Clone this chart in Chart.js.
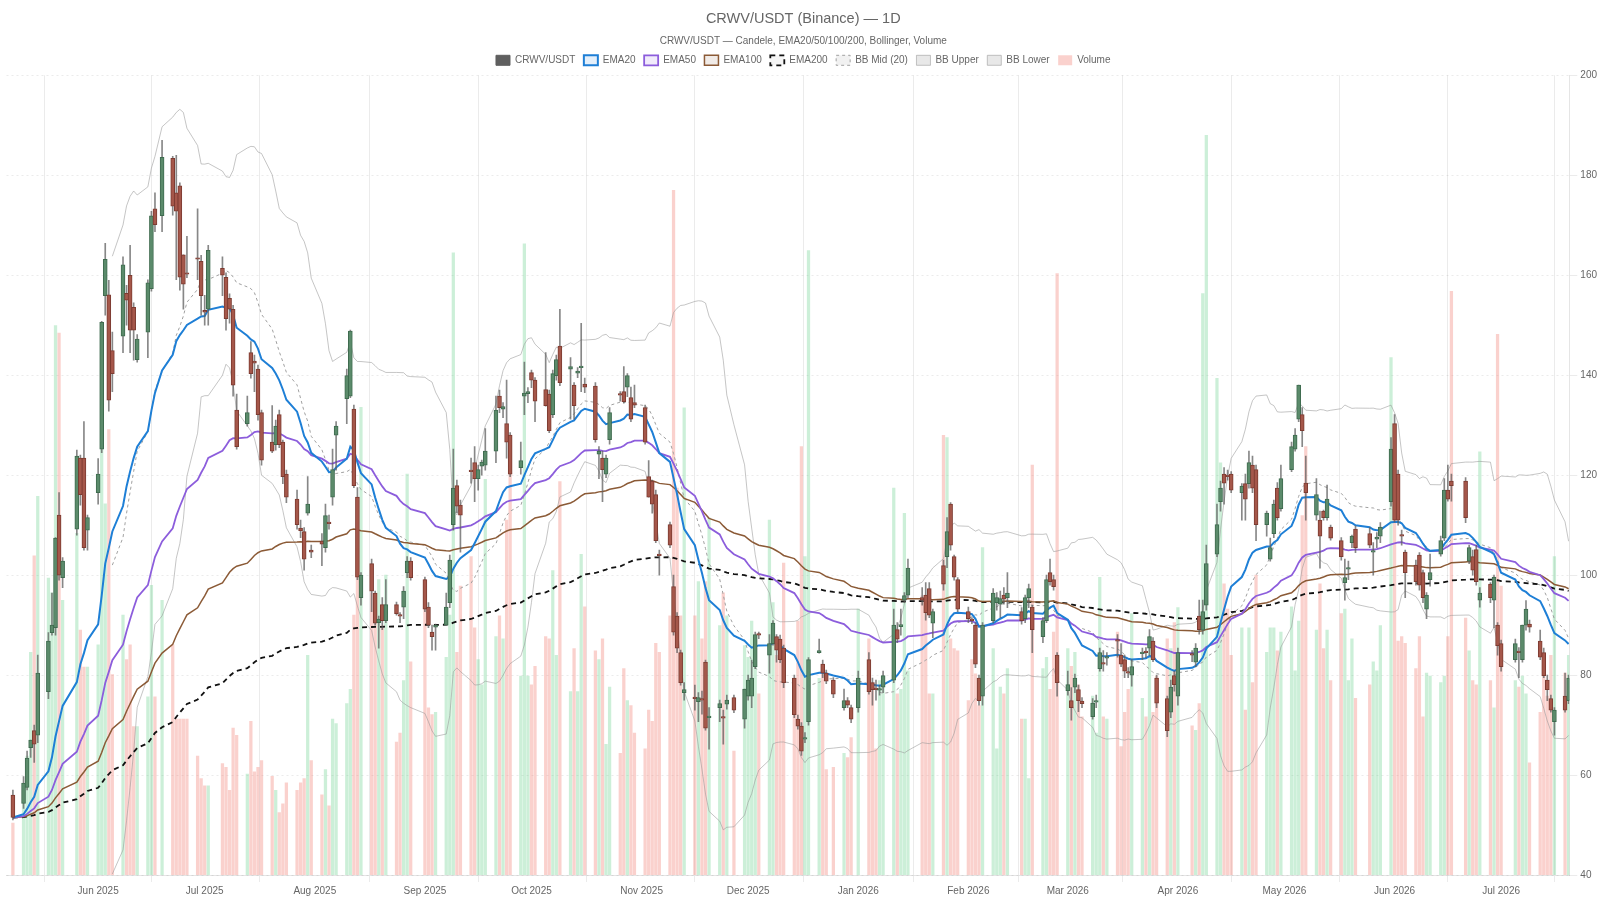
<!DOCTYPE html>
<html>
<head>
<meta charset="utf-8">
<title>CRWV/USDT (Binance) — 1D</title>
<script src="https://cdn.jsdelivr.net/npm/chart.js@4.4.1/dist/chart.umd.min.js"></script>
<style>
    html, body { margin: 0; padding: 0; background: #ffffff; }
    #wrap { width: 1600px; height: 900px; }
</style>
</head>
<body>
<div id="wrap"><canvas id="graphCanvas"></canvas></div>
<script>
// trading calendar (weekdays, US market holidays skipped)
var firstDay = '2025-05-09';
var lastDay = '2026-07-21';
var holidays = ['2025-05-26', '2025-06-19', '2025-07-04', '2025-09-01', '2025-11-27', '2025-12-25',
    '2026-01-01', '2026-01-19', '2026-02-16', '2026-04-03', '2026-05-25', '2026-06-19', '2026-07-03'];

// x axis ticks
var monthStarts = ['2025-06-01', '2025-07-01', '2025-08-01', '2025-09-01', '2025-10-01', '2025-11-01', '2025-12-01',
    '2026-01-01', '2026-02-01', '2026-03-01', '2026-04-01', '2026-05-01', '2026-06-01', '2026-07-01'];
var monthLabels = ['Jun 2025', 'Jul 2025', 'Aug 2025', 'Sep 2025', 'Oct 2025', 'Nov 2025', 'Dec 2025',
    'Jan 2026', 'Feb 2026', 'Mar 2026', 'Apr 2026', 'May 2026', 'Jun 2026', 'Jul 2026'];

// one line per month
var opens = [
    56, 54.3, 57.5, 65.5, 68.9, 68, 76.7, 88.5, 89.5, 112, 99.5, 109.2, 123.4, 123.4, 109,
    116.5, 125.2, 155.9, 156.1, 144.9, 147.8, 156.4, 160, 153.6, 143.1, 148.6, 157.3, 173.3, 171.9, 183.4, 176.5, 177.9, 164.1, 160.5, 163.5,
    162.8, 153, 153.2, 161.4, 159.6, 155.4, 153.2, 133, 130.3, 144.5, 142.8, 141.2, 132.5, 126.6, 126.1, 132.1, 126.6, 120.2, 115.2, 109.4, 108.7, 112.4,
    105, 106.8, 105.5, 110.6, 115.6, 128, 135.3, 135.8, 133.2, 115.6, 95.5, 102.3, 96.4, 90.5, 94.1, 90.9, 94.1, 92, 93.6, 100.5, 102.8,
    99.1, 93.6, 88.6, 89.6, 90, 94.5, 110.1, 117.9, 114, 121, 122.5, 119.3, 121.8, 122, 124.8, 135.8, 133.2, 130.3, 128, 121.5, 135.8,
    136.3, 140.5, 139, 137.1, 136.2, 132.1, 139.9, 145.8, 141.2, 138, 140.4, 141.5, 138.2, 137.8, 124.2, 123.4, 120.2, 127.1, 136.3, 136.7, 137.6, 135.5, 134.5,
    133.5, 119.7, 118.8, 116.1, 104.2, 110.1, 97.7, 91.8, 84.5, 76.5, 75.5, 74.7, 75.2, 82.6, 71.5, 73.5, 71.6, 74.2, 75.5,
    71.2, 75.8, 75.8, 81.7, 88.2, 84, 86.3, 87.7, 87.2, 85.4, 79.4, 71.2, 69.8, 67.2, 70.7, 84.5, 82.2, 80.4, 79, 73.5, 74.9, 73.5,
    73.5, 83.1, 78.5, 77.3, 77, 77.6, 79, 89.1, 89.7, 95, 96, 95.5, 96, 97.3, 90.4, 101.9, 103.7, 114.2, 103.7, 99.1,
    92.7, 91, 90, 79.4, 75.8, 90.9, 94.5, 94.2, 96, 95.5, 92.7, 91.3, 95.5, 93.6, 87.7, 90.9, 100.5, 99.1, 84,
    76.9, 74.9, 77.6, 77.1, 74.8, 71.7, 74.6, 81.3, 82.5, 83.4, 87, 84, 83.1, 80.6, 80, 84.3, 84.6, 85.4, 86.8, 79.4, 75.3, 72.6,
    79.9, 75.8, 84.1, 82.6, 91.8, 89, 94, 104.2, 114.7, 120.2, 120, 120.2, 116.5, 118.3, 118.3, 122, 121.1, 110.1, 103.2, 108.3, 117.4,
    113.3, 121.1, 125.2, 131.2, 132.1, 118.4, 112, 111, 112.8, 111.5, 109.6, 106.9, 98.5, 101.2, 106.5, 109.2, 108.3, 104.6, 107.2, 107.8,
    114.7, 130.3, 120.2, 108, 104.6, 102, 104, 100.5, 93.2, 99.1, 104.2, 107.4, 117, 118.8, 118.8, 102.8, 103.7, 105.1, 95, 98.2, 95,
    90, 86.3, 83.1, 84.7, 83.1, 90, 90.2, 86.8, 84.5, 79, 75.3, 70.7, 75.8, 74.9
];
var highs = [
    57, 59.7, 64.8, 67, 70, 84, 88.5, 96.4, 107.5, 116.5, 103.5, 125, 124, 130.7, 112,
    123.3, 150.8, 166.4, 159, 148.6, 163.7, 158, 166, 154.5, 148.1, 159.1, 172.8, 176.5, 187, 183.8, 184, 178.5, 164.1, 167.8, 173.3,
    164, 156, 166, 163.7, 160.5, 156.3, 154, 136.2, 135.8, 146.7, 144, 142, 133, 133.9, 131, 133, 127, 121, 117, 111, 109.5, 119.7,
    106, 108.3, 114.2, 112, 125.2, 130.7, 141.2, 149, 134, 117.5, 100.5, 103.2, 96.8, 91.8, 95.5, 99.1, 94.6, 92.5, 97.7, 103.7, 103.5,
    99.6, 94.5, 90, 90.2, 96.4, 104, 125.2, 119, 115, 123.4, 125.7, 122, 123, 129.3, 135.8, 137, 134.5, 139, 128.5, 126.6, 142.6,
    137.5, 141, 139.5, 144.5, 137, 141, 144, 153.2, 143.5, 138.5, 141.5, 150.4, 139.4, 138.5, 125.7, 124.8, 124, 133.5, 136.7, 141.7, 140.3, 137.6, 138,
    134, 122.9, 119, 117, 105, 110.6, 100, 92.5, 85, 78.5, 78, 76.5, 76.8, 83, 73.5, 75, 73, 76, 76,
    77.2, 80, 83, 88.6, 88.6, 88.1, 90.9, 88.1, 88, 86, 80, 72, 70.5, 68.5, 83.5, 87.2, 83, 81, 79.5, 77.2, 75.5, 74,
    80.8, 84.5, 79.4, 79, 78, 80.8, 93.2, 90.5, 93.2, 96.5, 103.2, 97.5, 98.5, 98.5, 93.2, 103, 111.5, 114.5, 104, 99.5,
    93.6, 91.5, 90.5, 80, 90.5, 97.3, 96.5, 96.8, 97.5, 100.5, 93.5, 96, 98.2, 94, 91.5, 100, 103.2, 100, 84.5,
    80.8, 77.5, 80.2, 78, 75.5, 75.3, 76, 85.4, 84.9, 84.5, 88.1, 86.3, 84, 81.5, 83.1, 85.4, 85.5, 89.1, 87.5, 80, 75.8, 79,
    80.8, 85.4, 84.9, 86.3, 95, 95, 106, 114.2, 118.8, 121.5, 121, 120.7, 118.3, 120.2, 124.8, 123.8, 122, 112.8, 107.4, 115, 118.5,
    122, 126.6, 129.3, 138, 133.5, 123.8, 119.3, 112.8, 113, 118, 110, 107.5, 103.2, 102.8, 108, 109.8, 109.5, 106.5, 108.5, 110.5,
    127.5, 132.1, 121, 109, 105, 103, 104.5, 101, 96.5, 104.2, 107.8, 119.3, 122, 120.2, 119.5, 106, 105, 106, 97.5, 98.5, 100,
    90.5, 87, 87.2, 85.5, 90, 94.9, 91, 89, 85.4, 80, 76, 73.5, 80.4, 80
];
var lows = [
    51, 53.3, 57, 63.5, 62.5, 66.5, 75.3, 88, 88, 99, 97.5, 108, 114, 105, 105,
    114.2, 124.5, 152, 132.8, 136.7, 144.5, 150, 144.5, 143, 142.6, 143.5, 156.8, 168.7, 168.7, 172, 159.1, 157, 153.2, 159.5, 159.1,
    152, 150, 150, 155.9, 149, 150.4, 135.8, 125.2, 129.8, 139.4, 136.7, 131, 122, 124.5, 125, 125.5, 118.3, 114.5, 109.2, 107.5, 101, 112,
    103.5, 101.9, 104.6, 109.2, 114, 121, 130.3, 135.5, 117.5, 99.1, 94, 92.7, 90, 85.4, 89.1, 90.5, 92, 90.5, 91.3, 99.5, 99,
    92.7, 89.5, 85, 85, 90, 93.5, 109, 112.5, 104.6, 118.4, 114.7, 117, 120, 121, 122.5, 132.5, 131.5, 123.4, 119.7, 120.2, 132.1,
    134.5, 137.5, 130.7, 133.8, 128.5, 131.5, 139, 137.9, 131.2, 131.2, 139.5, 136.7, 136.5, 126.6, 119.3, 114.7, 119.5, 126.2, 134.8, 134.4, 135.7, 130.7, 133.5,
    126.2, 115.6, 112.4, 106.5, 100, 105.5, 88, 84.5, 78, 75, 73, 70.7, 72.2, 69, 65.2, 70.7, 66.2, 73.2, 72.5,
    69.4, 75, 73.5, 81.3, 87.3, 80.4, 86, 82.6, 82.5, 77.5, 71.5, 69.2, 63.9, 66.5, 70, 84.4, 79.5, 78.3, 75.5, 73, 73.5, 70.5,
    72.6, 76.2, 74, 75, 76, 76.5, 78.5, 86.5, 88, 94.5, 95.5, 94, 91, 91.5, 87.5, 97, 101.5, 105, 99, 92.7,
    90.5, 90.3, 81.5, 74, 74, 90.5, 93, 91.5, 94.2, 93.5, 90.2, 90.5, 93.5, 84.5, 86.5, 90.5, 98, 97, 75.8,
    76, 71, 76.5, 72.7, 73.5, 71.2, 73.5, 80.8, 80.8, 82, 83.6, 81.7, 79.5, 79.5, 77.8, 83.1, 83.5, 84, 82.7, 73.5, 67.7, 71.5,
    76.8, 74, 82.7, 81.7, 88.2, 88.2, 93, 103.7, 112.8, 114.2, 119, 116.5, 111, 111, 117.4, 116.5, 106.9, 107.8, 102.8, 107.5, 111,
    112.8, 120.7, 124.8, 130.7, 125.7, 111, 111, 101.4, 111, 111, 107, 103, 95, 99.1, 105.5, 104.5, 105.5, 100, 105.5, 106.5,
    113.8, 110.6, 110, 106, 95.5, 98, 97, 94.5, 91.3, 97.8, 103.8, 106.9, 114.8, 114.8, 110.5, 102.3, 100, 98, 93.6, 94.5, 89.5,
    84, 80.8, 82.6, 79.5, 82.6, 89, 88.6, 83.1, 79.5, 74.9, 72.6, 68, 72.6, 74.3
];
var closes = [
    51.5, 58.4, 63.4, 67, 66.2, 80.4, 86.8, 90, 107.4, 100, 102.8, 123.8, 116.1, 105.5, 111.5,
    120.2, 150.6, 163.2, 135, 140.3, 162.1, 155, 149, 149, 147.2, 158.5, 171.9, 170.1, 183.6, 173.8, 172.8, 159.6, 158.2, 160.2, 163.2,
    155.9, 152.6, 165, 160, 151.3, 153.2, 138, 125.7, 132.5, 140.3, 142.4, 132.1, 123, 124.8, 129.8, 126.1, 119.7, 115.6, 110.1, 108.9, 103.2, 114.2,
    104.6, 106.2, 111.9, 110.3, 121.1, 129.8, 139.9, 148.8, 117.9, 99.6, 100, 96.8, 90.4, 91.2, 90.9, 94.1, 92.3, 91.8, 96.8, 102.8, 99.5,
    93.2, 90, 87.7, 90, 93.6, 103, 117.4, 113.8, 112, 120.7, 119.3, 121.1, 122.6, 124.8, 133, 133.5, 133.7, 126.6, 120.2, 122.9, 136.4,
    136.7, 139, 134.8, 133.9, 128.9, 140.3, 143.1, 138.5, 141.7, 133.9, 140.8, 141.7, 137.6, 127.1, 124.8, 121.1, 123.4, 132.5, 136, 134.7, 139.9, 131.2, 134,
    126.6, 115.6, 114.2, 106.9, 103.9, 106, 88.6, 85.4, 78.5, 77.1, 75.3, 75.5, 75, 69.4, 71.7, 74.3, 71.4, 75, 73,
    77.2, 79, 79.4, 88.1, 88, 86.3, 90.4, 85, 83.1, 78.5, 72.1, 69.8, 64.8, 67.5, 83.1, 84.9, 80.4, 78.8, 76.2, 74.9, 74, 71.2,
    79.4, 76.7, 77.1, 77.1, 77.2, 79.9, 90, 87.2, 90.1, 95.9, 101.4, 95, 92.5, 92, 92.7, 98.2, 108.7, 106, 99.6, 93.2,
    91.3, 90.9, 82.2, 74.9, 90, 96.4, 95.5, 95.3, 95.2, 96.4, 90.9, 95.5, 97.3, 89.1, 90.9, 99.1, 98.7, 97.7, 78.5,
    78.1, 73.5, 79.4, 74.9, 74.3, 74.4, 74.9, 84.5, 82.2, 83.6, 86.8, 82.2, 80.8, 80.4, 81.7, 84.5, 84.5, 87.7, 83.1, 74.4, 68.9, 77.6,
    78.1, 84.5, 84, 85.4, 89.1, 92.7, 102.3, 110.1, 117.4, 118.4, 119.7, 117, 117.8, 115.2, 122.5, 117.4, 110.1, 112.4, 105.5, 114.2, 111.5,
    119.3, 125.7, 128, 138, 128.9, 116.5, 116.1, 107.8, 111.5, 115.2, 107.4, 103.7, 99.5, 101.4, 107.8, 105.5, 106, 104.8, 107.6, 109.6,
    125.2, 111, 111, 107.8, 100.5, 98.7, 98, 95.5, 96, 100.5, 106.9, 117, 115.2, 117.9, 111.5, 105.5, 101, 98.7, 96.4, 95.5, 99.6,
    85.9, 81.7, 86.3, 84.5, 90, 93.2, 89.6, 83.6, 79.9, 77.1, 73, 73, 73, 79.4
];
// volume, relative units
var volumes = [
    7, 12, 16, 30, 43, 51, 40, 38, 74, 73, 37, 46, 33, 28, 28,
    31, 65, 50, 60, 27, 35, 29, 31, 20, 20, 24, 39, 24, 37, 31, 21, 21, 21, 21, 16,
    13, 12, 12, 15, 14.5, 11.4, 19.8, 18.8, 13.6, 20.7, 13.9, 14.5, 15.4, 13.3, 11.4, 8.4, 9.6, 12.4, 11.4, 12.4, 13, 29.6,
    15.4, 10.8, 14.2, 9.3, 21, 20.4, 23.1, 25, 35, 44, 63, 38, 34, 39.8, 33.6, 40.4, 17.9, 19.1, 26.2, 54, 28.7,
    39.8, 22.5, 21.6, 21.9, 29.3, 35, 83.8, 30, 38.9, 42.9, 33.3, 29, 25.6, 53.3, 32.1, 34.9, 31.8, 47.8, 55.5, 26.8, 85,
    26.8, 25.6, 28.1, 32.1, 31.8, 41, 29.6, 53, 24.7, 30.5, 24.7, 43.2, 36.1, 30.2, 29, 31.8, 17.6, 25.3, 16.4, 27.8, 23.5, 22.8, 19.1,
    17, 22.2, 20.7, 31.2, 30, 34.9, 92.2, 52.1, 34.9, 62.9, 34.9, 39.5, 31.8, 39.5, 48.1, 33.6, 38, 34.9, 16.7,
    30.9, 29.3, 34.2, 29, 24.4, 47.8, 36.7, 29.6, 31.5, 42, 24.7, 34.2, 57.7, 42.9, 84.1, 26.5, 28.1, 14.2, 14.5, 16.4, 15.8, 18.5,
    35.8, 31.8, 25.9, 17, 26.2, 25.3, 52.1, 24.4, 25, 48.7, 27.5, 37.6, 36.7, 24.4, 24.4, 59.2, 58.9, 31.8, 30.5, 30.2,
    23.5, 29, 27.1, 22.8, 44.1, 30.5, 17, 25.3, 24.4, 27.8, 21, 21, 13, 55.2, 27.8, 29.3, 25, 32.7, 81,
    30.5, 28.1, 30, 25.6, 21.3, 24.1, 19.1, 40.1, 21.3, 21, 32.7, 17.3, 21.9, 25, 35.2, 23.8, 21.3, 32.1, 21.9, 26.8, 31.8, 30.5,
    34, 36, 20.1, 19.5, 23.1, 78.3, 99.6, 66.9, 55.5, 39.2, 35.8, 29.6, 33.3, 22.2, 33.3, 25.9, 40.4, 30, 33.3, 33.3, 30.2,
    32.7, 36.1, 27.5, 34.2, 48.4, 57.7, 33, 39.2, 30.5, 33, 26.2, 35.2, 35.8, 26.2, 31.8, 23.8, 25.6, 28.7, 27.5, 33.6,
    69.7, 57, 31.5, 32.1, 31.2, 27.8, 32.1, 21.3, 27.2, 26.8, 25.9, 26.8, 32.1, 78.6, 34.6, 30.2, 26.2, 25.6, 57, 26.2, 22.5,
    72.8, 38.9, 26.2, 25.3, 26.8, 24.4, 15.1, 21.9, 28.1, 24.1, 29.6, 42.9, 27.2, 29.6
];

var upBody = '#5b8b6b', upEdge = '#3f6b4f';
var downBody = '#a5574a', downEdge = '#7c3b31';
var upVol = 'rgba(72, 199, 116, 0.28)', downVol = 'rgba(239, 104, 88, 0.30)';


function dayNum(iso)
{
    return Math.round(Date.parse(iso + 'T00:00:00Z') / 86400000);
}

function tradingDays(from, to, skip)
{
    var out = [];
    var d = new Date(from + 'T00:00:00Z');
    var end = new Date(to + 'T00:00:00Z');
    while (d <= end) {
        var iso = d.toISOString().slice(0, 10);
        var wd = d.getUTCDay();
        if (wd !== 0 && wd !== 6 && skip.indexOf(iso) < 0) {
            out.push(iso);
        }
        d.setUTCDate(d.getUTCDate() + 1);
    }
    return out;
}

function ema(values, n)
{
    var k = 2 / (n + 1);
    var out = [];
    var prev = values[0];
    for (var i = 0; i < values.length; i++) {
        prev = i === 0 ? values[0] : values[i] * k + prev * (1 - k);
        out.push(prev);
    }
    return out;
}

function bollinger(values, n, mult)
{
    var mid = [], up = [], low = [];
    for (var i = 0; i < values.length; i++) {
        if (i < n - 1) {
            mid.push(null); up.push(null); low.push(null);
            continue;
        }
        var sum = 0;
        for (var j = i - n + 1; j <= i; j++) sum += values[j];
        var mean = sum / n;
        var sq = 0;
        for (var j2 = i - n + 1; j2 <= i; j2++) sq += (values[j2] - mean) * (values[j2] - mean);
        var sd = Math.sqrt(sq / n);
        mid.push(mean);
        up.push(mean + mult * sd);
        low.push(mean - mult * sd);
    }
    return {mid: mid, up: up, low: low};
}


function showGraph()
{
    var dates = tradingDays(firstDay, lastDay, holidays);
    if (dates.length !== closes.length) {
        console.log('length mismatch', dates.length, closes.length);
    }
    var xs = dates.map(dayNum);
    // month ticks sit one day after the candle stamps
    var monthValues = monthStarts.map(function (d) { return dayNum(d) + 1; });

    function points(arr) {
        var pts = [];
        for (var i = 0; i < xs.length; i++) {
            if (arr[i] !== null && arr[i] !== undefined) pts.push({x: xs[i], y: arr[i]});
        }
        return pts;
    }

    var bodies = xs.map(function (x, i) { return {x: x, y: [opens[i], closes[i]]}; });
    var wicks = xs.map(function (x, i) { return {x: x, y: [lows[i], highs[i]]}; });
    var vols = xs.map(function (x, i) { return {x: x, y: volumes[i]}; });

    var bb = bollinger(closes, 20, 2);

    function isUp(i) { return closes[i] >= opens[i]; }

    var chartdata = {
        datasets: [
            {
                label: 'CRWV/USDT',
                data: bodies,
                yAxisID: 'y',
                grouped: false,
                barThickness: 4,
                minBarLength: 1.5,
                borderWidth: 1,
                borderSkipped: false,
                backgroundColor: function (c) {
                    if (c.dataIndex === undefined) return '#5f5f5f';
                    return isUp(c.dataIndex) ? upBody : downBody;
                },
                borderColor: function (c) {
                    if (c.dataIndex === undefined) return '#5f5f5f';
                    return isUp(c.dataIndex) ? upEdge : downEdge;
                }
            },
            {
                label: 'wicks',
                data: wicks,
                yAxisID: 'y',
                grouped: false,
                barThickness: 1,
                borderWidth: 0,
                backgroundColor: 'rgba(95, 95, 95, 0.75)'
            },
            {
                type: 'line',
                label: 'EMA20',
                data: points(ema(closes, 20)),
                yAxisID: 'y',
                borderColor: '#1e7fd6',
                backgroundColor: 'rgba(30, 127, 214, 0.12)',
                borderWidth: 2,
                pointRadius: 0,
                tension: 0
            },
            {
                type: 'line',
                label: 'EMA50',
                data: points(ema(closes, 50)),
                yAxisID: 'y',
                borderColor: '#8c5ddc',
                backgroundColor: 'rgba(140, 93, 220, 0.12)',
                borderWidth: 1.8,
                pointRadius: 0,
                tension: 0
            },
            {
                type: 'line',
                label: 'EMA100',
                data: points(ema(closes, 100)),
                yAxisID: 'y',
                borderColor: '#8b5a36',
                backgroundColor: 'rgba(139, 90, 54, 0.12)',
                borderWidth: 1.5,
                pointRadius: 0,
                tension: 0
            },
            {
                type: 'line',
                label: 'EMA200',
                data: points(ema(closes, 200)),
                yAxisID: 'y',
                borderColor: '#111111',
                backgroundColor: 'rgba(0, 0, 0, 0.04)',
                borderWidth: 1.8,
                borderDash: [5, 4],
                pointRadius: 0,
                tension: 0
            },
            {
                type: 'line',
                label: 'BB Mid (20)',
                data: points(bb.mid),
                yAxisID: 'y',
                borderColor: '#a0a0a0',
                backgroundColor: 'rgba(160, 160, 160, 0.15)',
                borderWidth: 1,
                borderDash: [3, 3],
                pointRadius: 0,
                tension: 0
            },
            {
                type: 'line',
                label: 'BB Upper',
                data: points(bb.up),
                yAxisID: 'y',
                borderColor: 'rgba(150, 150, 150, 0.55)',
                backgroundColor: 'rgba(190, 190, 190, 0.35)',
                borderWidth: 1,
                pointRadius: 0,
                tension: 0
            },
            {
                type: 'line',
                label: 'BB Lower',
                data: points(bb.low),
                yAxisID: 'y',
                borderColor: 'rgba(150, 150, 150, 0.55)',
                backgroundColor: 'rgba(190, 190, 190, 0.35)',
                borderWidth: 1,
                pointRadius: 0,
                tension: 0
            },
            {
                label: 'Volume',
                data: vols,
                yAxisID: 'yv',
                grouped: false,
                barThickness: 2.6,
                borderWidth: 0,
                backgroundColor: function (c) {
                    if (c.dataIndex === undefined) return downVol;
                    return isUp(c.dataIndex) ? upVol : downVol;
                }
            }
        ]
    };

    var graphTarget = document.getElementById('graphCanvas');

    var candleGraph = new Chart(graphTarget, {
        type: 'bar',
        data: chartdata,
        options: {
            responsive: true,
            maintainAspectRatio: false,
            animation: false,
            layout: {padding: {left: 6.5, right: 0, top: 0, bottom: 0}},
            plugins: {
                title: {
                    display: true,
                    text: 'CRWV/USDT (Binance) — 1D',
                    color: '#666',
                    font: {size: 14.5, weight: 'normal'},
                    padding: {top: 10.6, bottom: 6.8}
                },
                subtitle: {
                    display: true,
                    text: 'CRWV/USDT — Candele, EMA20/50/100/200, Bollinger, Volume',
                    color: '#666',
                    font: {size: 10},
                    padding: 0
                },
                legend: {
                    display: true,
                    labels: {
                        boxWidth: 14,
                        boxHeight: 10,
                        padding: 8.5,
                        color: '#666',
                        font: {size: 10},
                        filter: function (item) { return item.text !== 'wicks'; },
                        generateLabels: function (chart) {
                            var items = Chart.defaults.plugins.legend.labels.generateLabels(chart);
                            items.forEach(function (it) {
                                if (it.text === 'CRWV/USDT') {
                                    it.fillStyle = '#5f5f5f';
                                    it.strokeStyle = '#5f5f5f';
                                }
                                if (it.text === 'Volume') {
                                    it.fillStyle = downVol;
                                    it.strokeStyle = downVol;
                                    it.lineWidth = 0;
                                }
                            });
                            return items;
                        }
                    }
                },
                tooltip: {enabled: false}
            },
            scales: {
                x: {
                    type: 'linear',
                    min: xs[0] - 1.8,
                    max: xs[xs.length - 1] + 0.2,
                    offset: false,
                    afterBuildTicks: function (scale) {
                        scale.ticks = monthValues.map(function (v) { return {value: v}; });
                    },
                    ticks: {
                        autoSkip: false,
                        maxRotation: 0,
                        padding: 3,
                        color: '#666',
                        font: {size: 10},
                        callback: function (value, index) { return monthLabels[index]; }
                    },
                    grid: {offset: true, color: 'rgba(0, 0, 0, 0.08)', tickLength: 7}
                },
                y: {
                    position: 'right',
                    min: 40,
                    max: 200,
                    ticks: {stepSize: 20, color: '#666', font: {size: 10}, padding: 3},
                    grid: {color: 'rgba(0, 0, 0, 0.08)', tickLength: 8},
                    border: {dash: [2, 3], color: 'rgba(0, 0, 0, 0.1)'}
                },
                yv: {
                    display: false,
                    min: 0,
                    max: 107.7
                }
            }
        }
    });
}

window.addEventListener('load', showGraph);
</script>
</body>
</html>
